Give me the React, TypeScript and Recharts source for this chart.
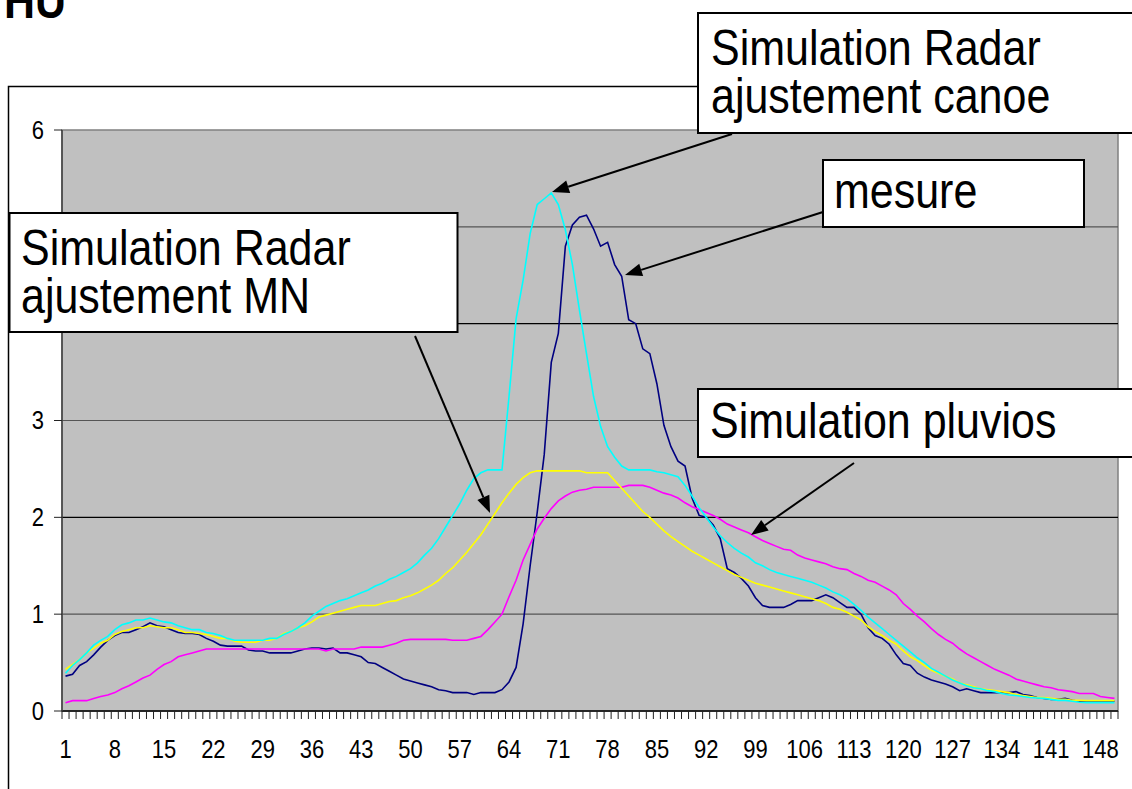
import React from "react";
import { LineChart, Line, XAxis, YAxis, ReferenceArea, ReferenceLine } from "recharts";

// ---- data -----------------------------------------------------------------
const categories: number[] = Array.from({ length: 150 }, (_, k) => k + 1);

const mesure: number[] = [
  0.36, 0.38, 0.47, 0.51, 0.58, 0.66, 0.73, 0.78, 0.81, 0.81,
  0.84, 0.87, 0.91, 0.88, 0.87, 0.84, 0.81, 0.8, 0.8, 0.79,
  0.75, 0.72, 0.68, 0.67, 0.67, 0.67, 0.63, 0.62, 0.62, 0.6,
  0.6, 0.6, 0.6, 0.62, 0.64, 0.65, 0.65, 0.64, 0.65, 0.6,
  0.6, 0.58, 0.56, 0.5, 0.49, 0.45, 0.41, 0.37, 0.33, 0.31,
  0.29, 0.27, 0.25, 0.22, 0.21, 0.19, 0.19, 0.19, 0.17, 0.19,
  0.19, 0.19, 0.22, 0.3, 0.45, 0.9, 1.5, 2.05, 2.65, 3.6,
  3.9, 4.8, 5.02, 5.1, 5.12, 4.98, 4.8, 4.84, 4.61, 4.49,
  4.04, 4.0, 3.74, 3.69, 3.38, 2.95, 2.73, 2.58, 2.53, 2.2,
  2.02, 2.0, 1.92, 1.78, 1.47, 1.43, 1.37, 1.29, 1.17, 1.09,
  1.07, 1.07, 1.07, 1.1, 1.14, 1.14, 1.14, 1.17, 1.2, 1.17,
  1.12, 1.07, 1.07, 1.0, 0.86, 0.78, 0.75, 0.69, 0.58, 0.49,
  0.47, 0.39, 0.35, 0.32, 0.3, 0.28, 0.25, 0.21, 0.23, 0.21,
  0.19, 0.19, 0.19, 0.19, 0.19, 0.2, 0.17, 0.16, 0.14, 0.13,
  0.12, 0.12, 0.13, 0.11, 0.1, 0.1, 0.1, 0.1, 0.1, 0.1,
];

const radarCanoe: number[] = [
  0.39, 0.47, 0.53, 0.6, 0.68, 0.73, 0.77, 0.84, 0.89, 0.91,
  0.94, 0.94, 0.96, 0.94, 0.92, 0.91, 0.88, 0.86, 0.84, 0.84,
  0.81, 0.8, 0.78, 0.75, 0.73, 0.73, 0.73, 0.73, 0.73, 0.75,
  0.75, 0.79, 0.82, 0.86, 0.91, 0.98, 1.03, 1.08, 1.11, 1.14,
  1.16, 1.19, 1.22, 1.25, 1.29, 1.32, 1.36, 1.39, 1.43, 1.47,
  1.53, 1.61, 1.68, 1.78, 1.9, 2.02, 2.14, 2.28, 2.4, 2.46,
  2.49, 2.49, 2.49, 3.25, 4.05, 4.45, 4.93, 5.23, 5.29, 5.35,
  5.23, 4.97, 4.61, 4.14, 3.69, 3.25, 2.94, 2.73, 2.62, 2.53,
  2.49, 2.49, 2.49, 2.49, 2.47, 2.46, 2.44, 2.42, 2.33, 2.22,
  2.1, 2.0, 1.9, 1.81, 1.74, 1.68, 1.63, 1.59, 1.53, 1.5,
  1.46, 1.43, 1.41, 1.39, 1.37, 1.35, 1.33, 1.3, 1.27, 1.23,
  1.2, 1.16, 1.1, 1.04, 0.97, 0.91, 0.85, 0.79, 0.73, 0.67,
  0.61, 0.55, 0.5, 0.44, 0.4, 0.36, 0.32, 0.29, 0.26, 0.24,
  0.23, 0.21, 0.2, 0.18, 0.165, 0.16, 0.15, 0.14, 0.135, 0.13,
  0.12, 0.11, 0.11, 0.1, 0.09, 0.086, 0.086, 0.086, 0.086, 0.086,
];

const radarMN: number[] = [
  0.43, 0.48, 0.53, 0.6, 0.65, 0.7, 0.73, 0.79, 0.82, 0.84,
  0.86, 0.86, 0.88, 0.87, 0.86, 0.86, 0.84, 0.81, 0.81, 0.8,
  0.79, 0.77, 0.75, 0.75, 0.72, 0.71, 0.71, 0.71, 0.73, 0.73,
  0.75, 0.8, 0.82, 0.86, 0.88, 0.92, 0.97, 0.99, 1.01, 1.03,
  1.05, 1.07, 1.09, 1.09, 1.09, 1.11, 1.13, 1.14, 1.17, 1.19,
  1.22, 1.26, 1.3, 1.35, 1.42, 1.48, 1.56, 1.64, 1.73, 1.82,
  1.93, 2.04, 2.15, 2.25, 2.34, 2.41, 2.46, 2.48, 2.48, 2.48,
  2.48, 2.48, 2.48, 2.48, 2.46, 2.46, 2.46, 2.46, 2.38, 2.3,
  2.22, 2.14, 2.06, 2.0, 1.93, 1.86, 1.8, 1.75, 1.7, 1.65,
  1.61, 1.57, 1.53, 1.49, 1.45, 1.41, 1.38, 1.35, 1.32, 1.3,
  1.28, 1.26, 1.24, 1.22, 1.2, 1.18, 1.16, 1.14, 1.11, 1.07,
  1.05, 1.02, 0.98, 0.94, 0.87, 0.82, 0.78, 0.73, 0.69, 0.62,
  0.56, 0.52, 0.47, 0.42, 0.39, 0.36, 0.33, 0.29, 0.27, 0.25,
  0.23, 0.22, 0.21, 0.2, 0.19, 0.17, 0.16, 0.15, 0.14, 0.14,
  0.13, 0.12, 0.12, 0.11, 0.11, 0.107, 0.107, 0.107, 0.107, 0.107,
];

const pluvios: number[] = [
  0.086, 0.107, 0.107, 0.107, 0.13, 0.15, 0.165, 0.19, 0.23, 0.26,
  0.3, 0.34, 0.37, 0.43, 0.48, 0.51, 0.56, 0.58, 0.6, 0.62,
  0.64, 0.64, 0.64, 0.64, 0.64, 0.64, 0.64, 0.64, 0.64, 0.64,
  0.64, 0.64, 0.64, 0.64, 0.64, 0.64, 0.64, 0.62, 0.64, 0.64,
  0.64, 0.64, 0.66, 0.66, 0.66, 0.66, 0.68, 0.7, 0.73, 0.74,
  0.74, 0.74, 0.74, 0.74, 0.74, 0.73, 0.73, 0.73, 0.75, 0.77,
  0.84, 0.92, 1.0, 1.18, 1.35, 1.56, 1.72, 1.88, 1.99, 2.09,
  2.17, 2.22, 2.26, 2.28, 2.29, 2.31, 2.31, 2.31, 2.31, 2.31,
  2.33, 2.33, 2.33, 2.31, 2.28, 2.25, 2.23, 2.2, 2.15, 2.11,
  2.08, 2.05, 2.02, 1.98, 1.93, 1.9, 1.87, 1.84, 1.8, 1.76,
  1.73, 1.7, 1.67, 1.66, 1.61, 1.58, 1.56, 1.54, 1.52, 1.49,
  1.47, 1.46, 1.42, 1.39, 1.35, 1.33, 1.29, 1.25, 1.2, 1.11,
  1.05, 0.98, 0.92, 0.85, 0.79, 0.74, 0.7, 0.64, 0.59, 0.55,
  0.51, 0.47, 0.43, 0.4, 0.37, 0.33, 0.31, 0.29, 0.27, 0.25,
  0.24, 0.22, 0.21, 0.2, 0.18, 0.18, 0.18, 0.15, 0.14, 0.13,
];

const xLabelTicks: number[] = [1, 8, 15, 22, 29, 36, 43, 50, 57, 64, 71, 78, 85, 92, 99, 106, 113, 120, 127, 134, 141, 148];
const xBoundaryTicks: number[] = Array.from({ length: 151 }, (_, k) => k + 0.5);
const yTicks: number[] = [0, 1, 2, 3, 4, 5, 6];
const gridValues: number[] = [1, 2, 3, 4, 5];

const data = categories.map((c, k) => ({
  x: c,
  mesure: mesure[k],
  canoe: radarCanoe[k],
  mn: radarMN[k],
  pluvios: pluvios[k],
}));

// ---- styling --------------------------------------------------------------
const FONT = "'Liberation Sans', Arial, Helvetica, sans-serif";
const STRETCH = 1.14;
const TICK_LEN = 8;

const YTick = (props: any) => {
  const { x, y, payload } = props;
  return (
    <text
      transform={`translate(${x},${y + 8.5}) scale(1,${STRETCH})`}
      textAnchor="end"
      fontSize={22}
      fontFamily={FONT}
      fill="#000"
    >
      {payload.value}
    </text>
  );
};

const XLabelTick = (props: any) => {
  const { x, y, payload } = props;
  return (
    <text
      transform={`translate(${x},${y + 37}) scale(1,${STRETCH})`}
      textAnchor="middle"
      fontSize={22}
      fontFamily={FONT}
      fill="#000"
    >
      {payload.value}
    </text>
  );
};

// draws the small category-boundary tick mark itself (y is the axis line)
const BoundaryTick = (props: any) => {
  const { x, y } = props;
  return <line x1={x} y1={y} x2={x} y2={y + TICK_LEN} stroke="#222" strokeWidth={1} />;
};

type Pt = [number, number];
const Arrow = ({ from, to }: { from: Pt; to: Pt }) => {
  const dx = to[0] - from[0];
  const dy = to[1] - from[1];
  const len = Math.sqrt(dx * dx + dy * dy);
  const ux = dx / len;
  const uy = dy / len;
  const hl = 17;
  const hw = 6.5;
  const bx = to[0] - ux * hl;
  const by = to[1] - uy * hl;
  const p1 = `${bx - uy * hw},${by + ux * hw}`;
  const p2 = `${bx + uy * hw},${by - ux * hw}`;
  return (
    <g>
      <line x1={from[0]} y1={from[1]} x2={bx} y2={by} stroke="#000" strokeWidth={2} />
      <polygon points={`${to[0]},${to[1]} ${p1} ${p2}`} fill="#000" />
    </g>
  );
};

const Label = ({ x, y, text, size = 43 }: { x: number; y: number; text: string; size?: number }) => (
  <text transform={`translate(${x},${y}) scale(1,${STRETCH})`} fontSize={size} fontFamily={FONT} fill="#000">
    {text}
  </text>
);

export default function App() {
  return (
    <div style={{ position: "fixed", left: 0, top: 0, width: 1132, height: 789, overflow: "hidden", background: "#fff" }}>
      <div style={{ position: "absolute", left: 0, top: 0 }}>
        <LineChart width={1132} height={789} data={data} margin={{ top: 130, right: 14, bottom: 0, left: 0 }}>
          <XAxis
            xAxisId="b"
            dataKey="x"
            type="number"
            domain={[0.5, 150.5]}
            ticks={xBoundaryTicks}
            interval={0}
            height={10}
            tick={BoundaryTick}
            tickSize={0}
            tickMargin={0}
            tickLine={false}
            axisLine={{ stroke: "#000", strokeWidth: 1.5 }}
          />
          <XAxis
            xAxisId="l"
            dataKey="x"
            type="number"
            domain={[0.5, 150.5]}
            ticks={xLabelTicks}
            interval={0}
            height={68}
            tick={XLabelTick}
            tickSize={0}
            tickMargin={0}
            tickLine={false}
            axisLine={false}
          />
          <YAxis
            domain={[0, 6]}
            ticks={yTicks}
            interval={0}
            width={62}
            tick={YTick}
            tickSize={8}
            tickMargin={10}
            tickLine={{ stroke: "#222", strokeWidth: 1 }}
            axisLine={{ stroke: "#404040", strokeWidth: 1.5 }}
          />
          <ReferenceArea
            xAxisId="b"
            x1={0.5}
            x2={150.5}
            y1={0}
            y2={6}
            fill="#c0c0c0"
            fillOpacity={1}
            stroke="#808080"
            strokeWidth={1.5}
          />
          {gridValues.map((v, k) => (
            <ReferenceLine
              key={v}
              xAxisId="b"
              y={v}
              stroke={k % 2 === 0 ? "#555555" : "#000000"}
              strokeWidth={1.2}
            />
          ))}
          <Line xAxisId="b" type="linear" dataKey="mesure" stroke="#000080" strokeWidth={1.6} dot={false} isAnimationActive={false} />
          <Line xAxisId="b" type="linear" dataKey="pluvios" stroke="#ff00ff" strokeWidth={1.6} dot={false} isAnimationActive={false} />
          <Line xAxisId="b" type="linear" dataKey="mn" stroke="#ffff00" strokeWidth={1.6} dot={false} isAnimationActive={false} />
          <Line xAxisId="b" type="linear" dataKey="canoe" stroke="#00ffff" strokeWidth={1.6} dot={false} isAnimationActive={false} />
        </LineChart>
      </div>
      <svg
        width={1132}
        height={789}
        style={{ position: "absolute", left: 0, top: 0, pointerEvents: "none" }}
      >
        {/* chart area frame */}
        <rect x={8.5} y={86.5} width={1200} height={800} fill="none" stroke="#000" strokeWidth={1.5} />
        {/* title */}
        <text transform={`translate(4,18) scale(1,${STRETCH})`} fontSize={43} fontWeight="bold" fontFamily={FONT} fill="#000">
          HU
        </text>

        {/* arrows */}
        <Arrow from={[732, 134]} to={[552, 192]} />
        <Arrow from={[823, 212]} to={[625, 275]} />
        <Arrow from={[415, 336]} to={[490, 513]} />
        <Arrow from={[854, 463]} to={[751, 535]} />

        {/* callout: canoe */}
        <rect x={698} y={13} width={500} height={120} fill="#fff" stroke="#000" strokeWidth={2} />
        <Label x={711} y={65} text="Simulation Radar" />
        <Label x={711} y={113} text="ajustement canoe" />

        {/* callout: mesure */}
        <rect x={823} y={160} width={261} height={67} fill="#fff" stroke="#000" strokeWidth={2} />
        <Label x={834} y={208} text="mesure" />

        {/* callout: MN */}
        <rect x={9.5} y={213} width={448} height={119} fill="#fff" stroke="#000" strokeWidth={2} />
        <Label x={21} y={265} text="Simulation Radar" />
        <Label x={21} y={313} text="ajustement MN" />

        {/* callout: pluvios */}
        <rect x={698} y={389} width={500} height={68} fill="#fff" stroke="#000" strokeWidth={2} />
        <Label x={710} y={438} text="Simulation pluvios" />
      </svg>
    </div>
  );
}
